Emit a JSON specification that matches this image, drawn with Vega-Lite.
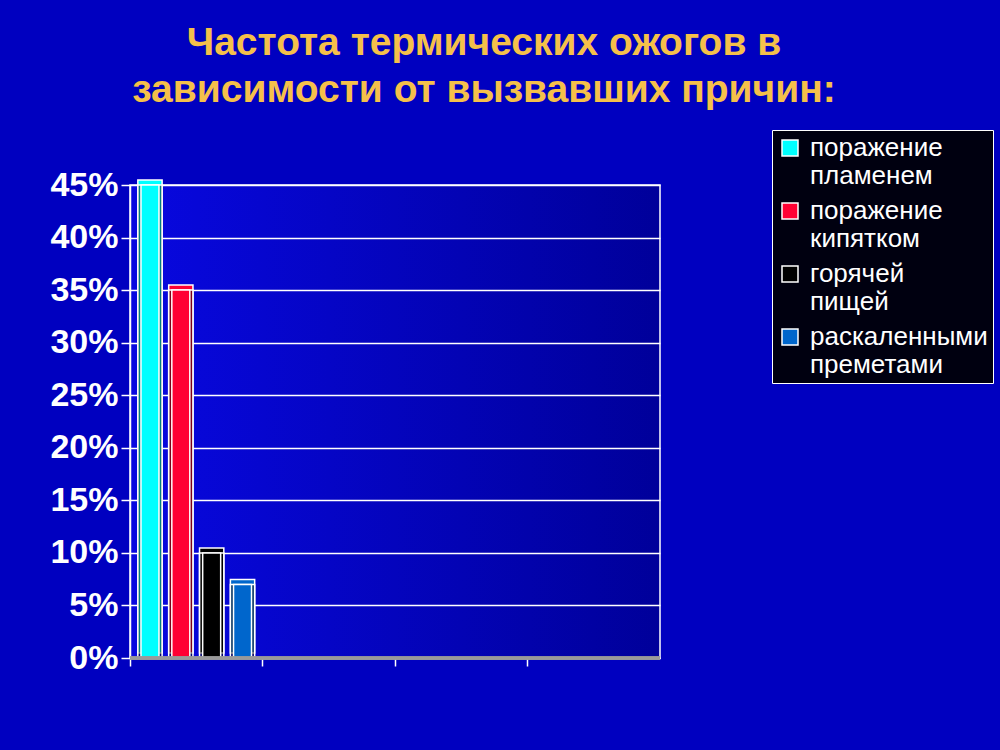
{
  "$schema": "https://vega.github.io/schema/vega-lite/v6.json",
  "width": 530,
  "height": 473,
  "autosize": {"type": "none"},
  "padding": {"left": 130, "top": 185, "right": 340, "bottom": 92},
  "background": "#0000c0",
  "title": {
    "text": ["Частота термических ожогов в", "зависимости от вызвавших причин:"],
    "color": "#f5c04a",
    "font": "Liberation Sans",
    "fontSize": 39,
    "fontWeight": "bold",
    "anchor": "middle",
    "frame": "group",
    "dx": 89,
    "offset": 20,
    "lineHeight": 47
  },
  "data": {
    "values": [
      {"group": "A", "cause": "поражение пламенем", "share": 0.45},
      {"group": "A", "cause": "поражение кипятком", "share": 0.35},
      {"group": "A", "cause": "горячей пищей", "share": 0.10},
      {"group": "A", "cause": "раскаленными преметами", "share": 0.07}
    ]
  },
  "layer": [
    {
      "mark": {"type": "bar", "yOffset": -5, "stroke": "white", "strokeWidth": 1.5},
      "encoding": {
        "x": {"field": "group", "type": "nominal", "scale": {"domain": ["A", "B", "C", "D"], "paddingInner": 0, "paddingOuter": 0},
          "axis": {"labels": false, "ticks": true, "bandPosition": 0, "tickColor": "white", "tickSize": 8, "tickWidth": 1.5, "domainColor": "white", "domainWidth": 1.5, "grid": false, "title": null}},
        "xOffset": {"field": "cause", "type": "nominal", "scale": {"domain": ["поражение пламенем", "поражение кипятком", "горячей пищей", "раскаленными преметами"], "paddingInner": 0.213, "paddingOuter": 0.254}},
        "y": {"field": "share", "type": "quantitative", "scale": {"domain": [0, 0.45]},
          "axis": {"grid": true, "values": [0, 0.05, 0.1, 0.15, 0.2, 0.25, 0.3, 0.35, 0.4, 0.45], "format": ".0%", "labelColor": "white", "labelFont": "Liberation Sans", "labelFontSize": 34, "labelFontWeight": "bold", "tickColor": "white", "tickSize": 9, "tickWidth": 1.5, "domainColor": "white", "domainWidth": 1.5, "gridColor": "white", "gridWidth": 1.5, "gridOpacity": 1, "labelPadding": 3, "title": null}},
        "color": {"field": "cause", "type": "nominal",
          "scale": {"domain": ["поражение пламенем", "поражение кипятком", "горячей пищей", "раскаленными преметами"], "range": ["#00ffff", "#ff0033", "#000000", "#0066cc"]},
          "legend": {"orient": "none", "legendX": 642, "legendY": -55, "fillColor": "#000010", "strokeColor": "white", "padding": 5, "labelColor": "white", "labelFont": "Liberation Sans", "labelFontSize": 26, "labelExpr": "split(datum.label, ' ')", "symbolType": "square", "symbolSize": 256, "symbolStrokeColor": "white", "symbolStrokeWidth": 1.5, "symbolOpacity": 1, "title": null, "rowPadding": 9, "labelLimit": 300, "labelOffset": 7}}
      }
    },
    {
      "mark": {"type": "bar", "fill": "black", "fillOpacity": 0.5, "stroke": "white", "strokeWidth": 1.5},
      "encoding": {
        "x": {"field": "group", "type": "nominal"},
        "xOffset": {"field": "cause", "type": "nominal"},
        "y": {"field": "share", "type": "quantitative"}
      }
    },
    {
      "mark": {"type": "bar", "width": 18, "xOffset": -3, "stroke": "white", "strokeWidth": 1.5},
      "encoding": {
        "x": {"field": "group", "type": "nominal"},
        "xOffset": {"field": "cause", "type": "nominal"},
        "y": {"field": "share", "type": "quantitative"},
        "color": {"field": "cause", "type": "nominal"}
      }
    },
    {
      "mark": {"type": "rule", "color": "#9a9a9a", "strokeWidth": 3},
      "encoding": {"y": {"datum": 0, "type": "quantitative"}}
    }
  ],
  "config": {
    "view": {
      "stroke": "white",
      "strokeWidth": 1.5,
      "fill": {"gradient": "linear", "x1": 0, "y1": 0, "x2": 1, "y2": 0, "stops": [{"offset": 0, "color": "#0808e0"}, {"offset": 1, "color": "#00009a"}]}
    }
  }
}
